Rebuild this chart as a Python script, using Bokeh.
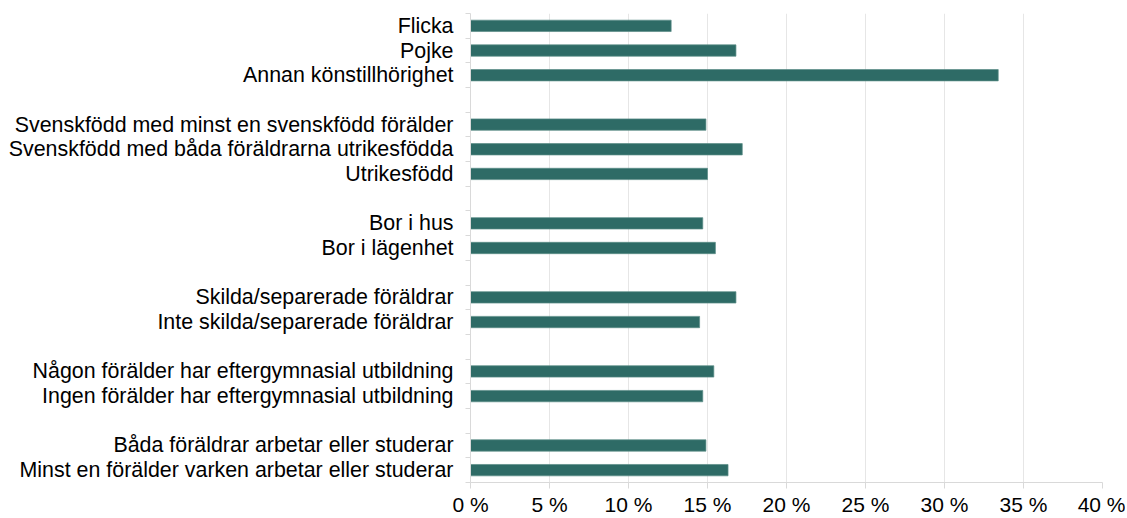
from bokeh.plotting import figure
from bokeh.models import Range1d, FixedTicker, ColumnDataSource
from bokeh.embed import file_html
from bokeh.resources import INLINE

categories = [
    "Flicka", "Pojke", "Annan könstillhörighet",
    "Svenskfödd med minst en svenskfödd förälder",
    "Svenskfödd med båda föräldrarna utrikesfödda",
    "Utrikesfödd",
    "Bor i hus", "Bor i lägenhet",
    "Skilda/separerade föräldrar", "Inte skilda/separerade föräldrar",
    "Någon förälder har eftergymnasial utbildning",
    "Ingen förälder har eftergymnasial utbildning",
    "Båda föräldrar arbetar eller studerar",
    "Minst en förälder varken arbetar eller studerar",
]
groups = [0, 0, 0, 1, 1, 1, 2, 2, 3, 3, 4, 4, 5, 5]
values = [12.7, 16.8, 33.4, 14.9, 17.2, 15.0, 14.7, 15.5, 16.8, 14.5, 15.4, 14.7, 14.9, 16.3]
x_ticks = [0, 5, 10, 15, 20, 25, 30, 35, 40]

# slot positions with one empty slot between groups
centers = []
for i, g in enumerate(groups):
    centers.append(i + g + 0.5)
n_slots = len(groups) + groups[-1]

src = ColumnDataSource(dict(y=centers, v=values, name=categories))

font = "Liberation Sans"
p = figure(width=1125, height=518, output_backend="svg", toolbar_location=None,
           x_range=Range1d(0, 40), y_range=Range1d(n_slots, 0),
           min_border_left=470, min_border_right=23, min_border_top=13, min_border_bottom=34)
p.outline_line_color = None
p.background_fill_color = "white"

p.hbar(y="y", right="v", left=0, height=0.46, source=src,
       fill_color="#2e6b66", line_color="#5a8c87", line_width=0.7)

# x axis
p.xaxis.ticker = FixedTicker(ticks=x_ticks)
p.xaxis.major_label_overrides = {t: f"{t} %" for t in x_ticks}
p.xaxis.axis_line_color = "#d9d9d9"
p.xaxis.major_tick_line_color = "#d9d9d9"
p.xaxis.major_tick_out = 6
p.xaxis.major_tick_in = 0
p.xaxis.minor_tick_line_color = None
p.xaxis.major_label_text_font = font
p.xaxis.major_label_text_font_size = "21px"
p.xaxis.major_label_text_color = "#000000"
p.xaxis.major_label_standoff = 4

# y axis
p.yaxis.ticker = FixedTicker(ticks=centers, minor_ticks=list(range(n_slots + 1)))
p.yaxis.major_label_overrides = {c: name for c, name in zip(centers, categories)}
p.yaxis.axis_line_color = "#d9d9d9"
p.yaxis.major_tick_line_color = None
p.yaxis.major_tick_out = 0
p.yaxis.major_tick_in = 0
p.yaxis.minor_tick_line_color = "#d9d9d9"
p.yaxis.minor_tick_out = 5
p.yaxis.minor_tick_in = 0
p.yaxis.major_label_text_font = font
p.yaxis.major_label_text_font_size = "21.4px"
p.yaxis.major_label_text_color = "#000000"
p.yaxis.major_label_standoff = 12

p.xgrid.grid_line_color = "#e6e6e6"
p.xgrid.ticker = FixedTicker(ticks=x_ticks)
p.ygrid.grid_line_color = None

open("out.html", "w").write(file_html(p, INLINE))
